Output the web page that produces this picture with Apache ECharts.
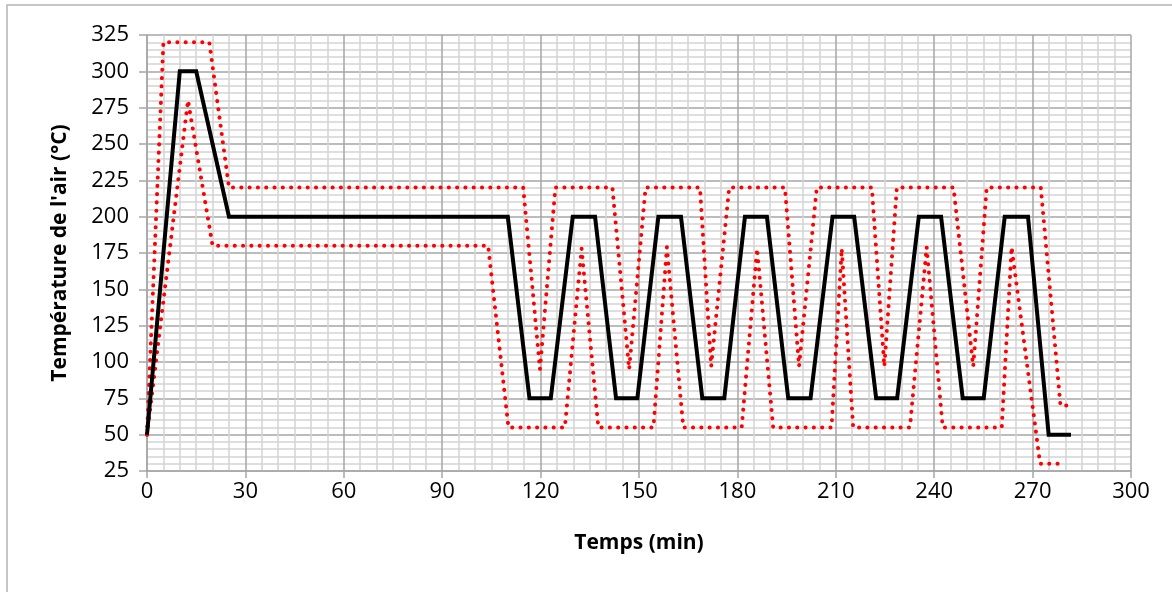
<!DOCTYPE html>
<html>
<head>
<meta charset="utf-8">
<script src="https://cdn.jsdelivr.net/npm/echarts@6/dist/echarts.min.js"></script>
<style>
  html, body { margin: 0; padding: 0; background: #fff; }
  #chart { width: 1172px; height: 592px; }
</style>
</head>
<body>
<div id="chart"></div>
<script>
// consigne (trait noir)
const setTime = [0, 10, 15, 25, 110, 116.6, 123.1, 129.8, 136.6, 143, 149.5, 155.9, 162.8, 169.3, 176,
  182.3, 189, 195.5, 202.3, 209, 215.6, 222.3, 228.7, 235.3, 242.1, 248.7, 255.1, 261.5, 268.6, 274.9, 281.7]
const setTemp = [50, 300, 300, 200, 200, 75, 75, 200, 200, 75, 75, 200, 200, 75, 75,
  200, 200, 75, 75, 200, 200, 75, 75, 200, 200, 75, 75, 200, 200, 50, 50]

// limite haute (pointillé rouge)
const upTime = [0, 5, 19, 25, 114.7, 119.8, 124.5, 141.9, 147, 152, 168.6, 172, 177.5,
  194.5, 198.8, 204.2, 221, 224.8, 228.6, 245.9, 251.9, 256, 272.5, 278.5, 281.2]
const upTemp = [50, 320, 320, 220, 220, 95, 220, 220, 95, 220, 220, 97, 220,
  220, 97, 220, 220, 97, 220, 220, 97, 220, 220, 70, 70]

// limite basse (pointillé rouge)
const lowTime = [0, 12.5, 20, 104, 110.2, 127.4, 132.5, 137.6, 154.4, 158.5, 163.5, 181.3, 186, 190.9,
  208.7, 211.8, 215.3, 232.6, 237.7, 242.6, 260.6, 263.6, 272.3, 280]
const lowTemp = [50, 280, 180, 180, 55, 55, 178, 55, 55, 179, 55, 55, 178, 55,
  55, 178, 55, 55, 179, 55, 55, 179, 30, 30]

const pairs = (xs, ys) => xs.map((x, i) => [x, ys[i]])

const chart = echarts.init(document.getElementById('chart'))

const labelFont = '"Open Sans", Lato, sans-serif'

const option = {
  animation: false,
  backgroundColor: '#fff',
  graphic: [
    {
      type: 'rect',
      shape: { x: 7, y: 5, width: 1180, height: 600 },
      style: { fill: 'none', stroke: '#b4b4b4', lineWidth: 1.5 },
      silent: true
    }
  ],
  grid: {
    left: 147,
    top: 35,
    right: 41,
    bottom: 121
  },
  xAxis: {
    type: 'value',
    min: 0,
    max: 300,
    interval: 30,
    name: 'Temps (min)',
    nameLocation: 'middle',
    nameGap: 62,
    nameTextStyle: { color: '#000', fontSize: 21, fontWeight: 'bold', fontFamily: labelFont },
    axisLine: { show: true, lineStyle: { color: '#a6a6a6', width: 1.5 } },
    axisTick: { show: true, length: 7, lineStyle: { color: '#a6a6a6', width: 1.5 } },
    axisLabel: { color: '#000', fontSize: 22, fontFamily: labelFont, margin: 10 },
    splitLine: { show: true, lineStyle: { color: '#a6a6a6', width: 1.5 } },
    minorTick: { show: false, splitNumber: 6 },
    minorSplitLine: { show: true, lineStyle: { color: '#d4d4d4', width: 1.5 } }
  },
  yAxis: {
    type: 'value',
    min: 25,
    max: 325,
    interval: 25,
    name: "Température de l'air (°C)",
    nameLocation: 'middle',
    nameGap: 76,
    nameTextStyle: { color: '#000', fontSize: 21, fontWeight: 'bold', fontFamily: labelFont },
    axisLine: { show: true, lineStyle: { color: '#a6a6a6', width: 1.5 } },
    axisTick: { show: true, length: 8, lineStyle: { color: '#a6a6a6', width: 1.5 } },
    axisLabel: { color: '#000', fontSize: 22, fontFamily: labelFont, margin: 18 },
    splitLine: { show: true, lineStyle: { color: '#a6a6a6', width: 1.5 } },
    minorTick: { show: false, splitNumber: 5 },
    minorSplitLine: { show: true, lineStyle: { color: '#d4d4d4', width: 1.5 } }
  },
  series: [
    {
      name: 'limite haute',
      type: 'line',
      data: pairs(upTime, upTemp),
      showSymbol: false,
      lineStyle: { color: '#ff0000', width: 4, type: [0.1, 8.2], cap: 'round', join: 'round' },
      z: 2
    },
    {
      name: 'limite basse',
      type: 'line',
      data: pairs(lowTime, lowTemp),
      showSymbol: false,
      lineStyle: { color: '#ff0000', width: 4, type: [0.1, 8.2], cap: 'round', join: 'round' },
      z: 2
    },
    {
      name: 'consigne',
      type: 'line',
      data: pairs(setTime, setTemp),
      showSymbol: false,
      lineStyle: { color: '#000', width: 4, join: 'miter' },
      z: 3
    }
  ]
}

chart.setOption(option)
</script>
</body>
</html>
